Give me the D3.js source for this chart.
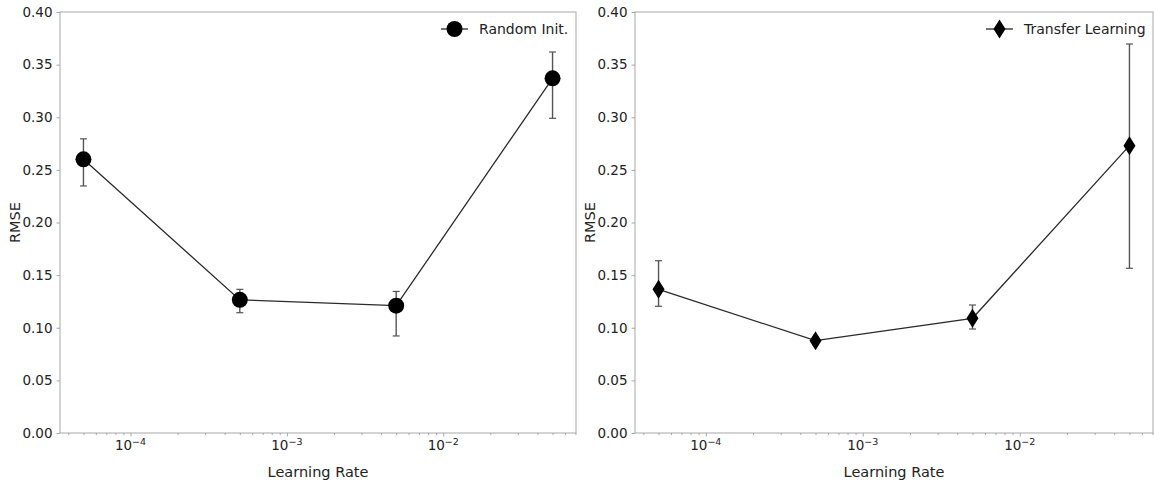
<!DOCTYPE html>
<html>
<head>
<meta charset="utf-8">
<script src="https://cdn.jsdelivr.net/npm/d3@7"></script>
<style>
  html, body { margin: 0; padding: 0; background: #fff; }
  svg { display: block; font-family: "DejaVu Sans", sans-serif; }
</style>
</head>
<body>
<svg id="chart" width="1154" height="483"></svg>
<script>
// Learning rates swept (shared by both panels)
const learningRates = [5e-5, 5e-4, 5e-3, 5e-2];

// Random initialisation: mean RMSE with lower / upper error extents
const randomMean  = [0.260, 0.1265, 0.121, 0.337];
const randomLow   = [0.2347, 0.1143, 0.0922, 0.299];
const randomHigh  = [0.2795, 0.1365, 0.1345, 0.362];

// Transfer learning: mean RMSE with lower / upper error extents
const transferMean = [0.1365, 0.0877, 0.109, 0.273];
const transferLow  = [0.1204, 0.0840, 0.0988, 0.1565];
const transferHigh = [0.1637, 0.0910, 0.1216, 0.3696];

const yTicks = [0, 0.05, 0.10, 0.15, 0.20, 0.25, 0.30, 0.35, 0.40];
const xMajorExponents = [-4, -3, -2];

const panels = [
  { name: "Random Init.", marker: "circle", mean: randomMean, low: randomLow, high: randomHigh,
    left: 60, right: 576, legendX: 441 },
  { name: "Transfer Learning", marker: "diamond", mean: transferMean, low: transferLow, high: transferHigh,
    left: 635, right: 1153, legendX: 986 }
];

const svg = d3.select("#chart");
const plotTop = 12, plotBottom = 433;

// log-space padding of 5% on either side of the data range
const lo = Math.log10(d3.min(learningRates)), hi = Math.log10(d3.max(learningRates));
const pad = (hi - lo) * 0.05;
const xDomain = [Math.pow(10, lo - pad), Math.pow(10, hi + pad)];

const minorTicks = [];
for (let e = -6; e <= 0; e++) {
  for (let m = 2; m <= 9; m++) {
    const v = m * Math.pow(10, e);
    if (v >= xDomain[0] && v <= xDomain[1]) minorTicks.push(v);
  }
}

const y = d3.scaleLinear().domain([0, 0.4]).range([plotBottom, plotTop]);

function drawMarker(g, type, cx, cy) {
  if (type === "circle") {
    g.append("circle").attr("cx", cx).attr("cy", cy).attr("r", 8).attr("fill", "#000");
  } else {
    const w = 6, h = 9.5;
    g.append("path")
      .attr("d", `M${cx},${cy - h}L${cx + w},${cy}L${cx},${cy + h}L${cx - w},${cy}Z`)
      .attr("fill", "#000");
  }
}

panels.forEach(p => {
  const x = d3.scaleLog().domain(xDomain).range([p.left, p.right]);
  const g = svg.append("g");

  // frame
  g.append("rect")
    .attr("x", p.left).attr("y", plotTop)
    .attr("width", p.right - p.left).attr("height", plotBottom - plotTop)
    .attr("fill", "none").attr("stroke", "#a8a8a8").attr("stroke-width", 1);

  // y axis
  const yAxis = g.append("g").attr("transform", `translate(${p.left},0)`)
    .call(d3.axisLeft(y).tickValues(yTicks).tickFormat(d3.format(".2f")).tickSize(3.5).tickPadding(4));
  yAxis.select(".domain").remove();
  yAxis.selectAll("line").attr("stroke", "#a8a8a8");
  yAxis.selectAll("text").attr("font-size", 13.5).attr("fill", "#222")
    .attr("font-family", "DejaVu Sans");

  // x axis: minor ticks
  const xMinor = g.append("g").attr("transform", `translate(0,${plotBottom})`)
    .call(d3.axisBottom(x).tickValues(minorTicks).tickFormat("").tickSize(2));
  xMinor.select(".domain").remove();
  xMinor.selectAll("line").attr("stroke", "#a8a8a8");

  // x axis: major ticks with power-of-ten labels
  const majors = xMajorExponents.map(e => Math.pow(10, e));
  const xMajor = g.append("g").attr("transform", `translate(0,${plotBottom})`)
    .call(d3.axisBottom(x).tickValues(majors).tickFormat("").tickSize(3.5));
  xMajor.select(".domain").remove();
  xMajor.selectAll("line").attr("stroke", "#a8a8a8");

  xMajorExponents.forEach(e => {
    const t = g.append("text")
      .attr("x", x(Math.pow(10, e))).attr("y", plotBottom + 17)
      .attr("text-anchor", "middle").attr("font-size", 13.5).attr("fill", "#222");
    t.append("tspan").text("10");
    t.append("tspan").attr("dy", -5).attr("font-size", 9.5).text("\u2212" + Math.abs(e));
  });

  // axis titles
  g.append("text")
    .attr("x", (p.left + p.right) / 2).attr("y", plotBottom + 44)
    .attr("text-anchor", "middle").attr("font-size", 14.5).attr("fill", "#222")
    .text("Learning Rate");
  g.append("text")
    .attr("transform", `translate(${p.left - 40},${(plotTop + plotBottom) / 2}) rotate(-90)`)
    .attr("text-anchor", "middle").attr("font-size", 14.5).attr("fill", "#222")
    .text("RMSE");

  // error bars
  learningRates.forEach((lr, i) => {
    const cx = x(lr);
    g.append("line")
      .attr("x1", cx).attr("x2", cx).attr("y1", y(p.low[i])).attr("y2", y(p.high[i]))
      .attr("stroke", "#555").attr("stroke-width", 1.4);
    [p.low[i], p.high[i]].forEach(v => {
      g.append("line")
        .attr("x1", cx - 3.5).attr("x2", cx + 3.5).attr("y1", y(v)).attr("y2", y(v))
        .attr("stroke", "#555").attr("stroke-width", 1.2);
    });
  });

  // connecting line
  const line = d3.line().x((d, i) => x(learningRates[i])).y(d => y(d));
  g.append("path").datum(p.mean).attr("d", line)
    .attr("fill", "none").attr("stroke", "#2a2a2a").attr("stroke-width", 1.3);

  // markers
  p.mean.forEach((v, i) => drawMarker(g, p.marker, x(learningRates[i]), y(v)));

  // legend (top right)
  const legY = 29;
  const leg = g.append("g");
  const lx0 = p.legendX;
  leg.append("line").attr("x1", lx0).attr("x2", lx0 + 27).attr("y1", legY).attr("y2", legY)
    .attr("stroke", "#2a2a2a").attr("stroke-width", 1.3);
  drawMarker(leg, p.marker, lx0 + 13.5, legY);
  leg.append("text").attr("x", lx0 + 38).attr("y", legY + 5)
    .attr("font-size", 14).attr("fill", "#222").text(p.name);
});
</script>
</body>
</html>
